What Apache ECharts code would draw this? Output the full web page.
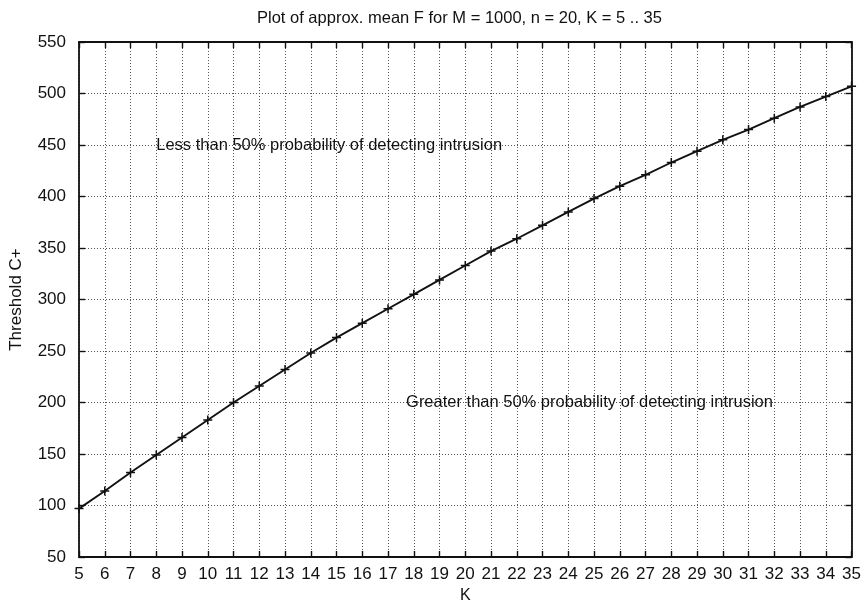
<!DOCTYPE html>
<html>
<head>
<meta charset="utf-8">
<script src="https://cdn.jsdelivr.net/npm/echarts@6/dist/echarts.min.js"></script>
<style>html,body{margin:0;padding:0;background:#fff;}#c{width:864px;height:610px;}</style>
</head>
<body>
<div id="c"></div>
<script>
var titleText = 'Plot of approx. mean F for M = 1000, n = 20, K = 5 .. 35';
var kValues = [5,6,7,8,9,10,11,12,13,14,15,16,17,18,19,20,21,22,23,24,25,26,27,28,29,30,31,32,33,34,35];
var threshold = [97,114,132,149,166,183,200,216,232,248,263,277,291,305,319,333,347,359,372,385,398,410,421,433,444,455,465,476,487,497,507];
var yTicks = [50,100,150,200,250,300,350,400,450,500,550];
var notes = [
  {text: 'Less than 50% probability of detecting intrusion', k: 8, v: 450},
  {text: 'Greater than 50% probability of detecting intrusion', k: 17.7, v: 200}
];

var font = 'Liberation Sans, Arial, Helvetica, sans-serif';
var ink = '#111';
var chart = echarts.init(document.getElementById('c'), null, {renderer: 'canvas'});
var data = kValues.map(function (k, i) { return [k, threshold[i]]; });
var grid = {left: 77, right: 12, top: 42, bottom: 53};
var dotted = {show: true, lineStyle: {color: '#555', type: [1, 2], width: 1}};
var plus = 'path://M0,-4L0,4M-4,0L4,0';

var option = {
  backgroundColor: '#ffffff',
  animation: false,
  textStyle: {fontFamily: font, color: ink},
  title: {
    text: titleText, left: 252, top: 5,
    textStyle: {fontFamily: font, fontSize: 16.5, fontWeight: 'normal', color: ink}
  },
  grid: grid,
  xAxis: [{
    type: 'value', min: 5, max: 35, interval: 1,
    name: 'K', nameLocation: 'middle', nameGap: 29,
    nameTextStyle: {fontFamily: font, fontSize: 16, color: ink},
    axisLine: {show: true, onZero: false, lineStyle: {color: ink, width: 1.8}},
    axisTick: {show: true, inside: true, length: 6, lineStyle: {color: ink, width: 1.4}},
    axisLabel: {fontFamily: font, fontSize: 17, color: ink, margin: 9},
    splitLine: dotted
  }, {
    type: 'value', min: 5, max: 35, interval: 1, position: 'top',
    axisLine: {show: true, onZero: false, lineStyle: {color: ink, width: 1.8}},
    axisTick: {show: true, inside: true, length: 6, lineStyle: {color: ink, width: 1.4}},
    axisLabel: {show: false}, splitLine: {show: false}
  }],
  yAxis: [{
    type: 'value', min: 50, max: 550, interval: 50,
    name: 'Threshold C+', nameLocation: 'middle', nameGap: 54,
    nameTextStyle: {fontFamily: font, fontSize: 17, color: ink},
    axisLine: {show: true, onZero: false, lineStyle: {color: ink, width: 1.8}},
    axisTick: {show: true, inside: true, length: 6, lineStyle: {color: ink, width: 1.4}},
    axisLabel: {fontFamily: font, fontSize: 17, color: ink, margin: 13,
      formatter: function (v) { return yTicks.indexOf(v) >= 0 ? String(v) : ''; }},
    splitLine: dotted
  }, {
    type: 'value', min: 50, max: 550, interval: 50, position: 'right',
    axisLine: {show: true, onZero: false, lineStyle: {color: ink, width: 1.8}},
    axisTick: {show: true, inside: true, length: 6, lineStyle: {color: ink, width: 1.4}},
    axisLabel: {show: false}, splitLine: {show: false}
  }],
  series: [{
    type: 'line',
    data: data,
    xAxisIndex: 0, yAxisIndex: 0,
    symbol: plus, symbolSize: 9,
    itemStyle: {color: 'rgba(0,0,0,0)', borderColor: ink, borderWidth: 1.5},
    lineStyle: {color: ink, width: 1.9},
    markPoint: {
      symbol: 'circle', symbolSize: 0,
      label: {show: true, position: 'right', distance: 0, fontFamily: font, fontSize: 16.5, color: ink,
        formatter: function (p) { return p.name; }},
      data: notes.map(function (n) { return {name: n.text, coord: [n.k, n.v]}; })
    }
  }]
};
chart.setOption(option);
</script>
</body>
</html>
